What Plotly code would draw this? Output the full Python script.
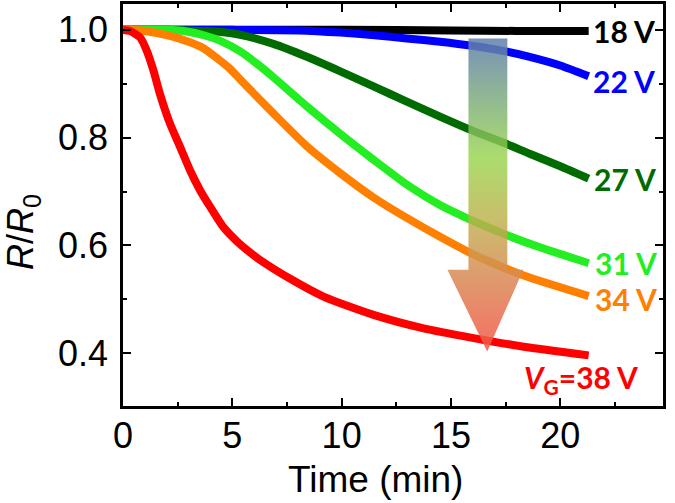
import plotly.graph_objects as go

# ---- data ----
labels = ["18 V", "22 V", "27 V", "31 V", "34 V", "<i>V</i><sub>G</sub>=38 V"]
colors = ["#000000", "#0000ff", "#006b00", "#22ee22", "#ff8000", "#ff0000"]

t_18 = [0, 5, 10, 15, 18, 21.3]
r_18 = [1.0, 1.0, 1.0, 0.999, 0.998, 0.998]

t_22 = [0, 5, 8, 9.94, 11.5, 12.98, 14.5, 16.04, 17.5, 18.6, 20, 21.3]
r_22 = [1.0, 1.0, 0.999, 0.995, 0.990, 0.984, 0.978, 0.970, 0.960, 0.950, 0.934, 0.914]

t_27 = [0, 2, 3.5, 4.5, 5.36, 6.88, 8.41, 9.94, 11.46, 12.98, 14.5, 16.04, 17.5, 18.6, 20, 21.3]
r_27 = [1.0, 1.0, 0.998, 0.996, 0.991, 0.974, 0.950, 0.923, 0.895, 0.867, 0.839, 0.812,
        0.789, 0.770, 0.747, 0.724]

t_31 = [0, 2.0, 2.9, 3.7, 4.43, 5.36, 6.1, 6.88, 8.41, 9.94, 11.46, 12.98, 14.5, 16.04,
        17.5, 19.1, 21.3]
r_31 = [1.0, 1.0, 0.997, 0.990, 0.980, 0.960, 0.938, 0.912, 0.858, 0.807, 0.759, 0.713,
        0.675, 0.645, 0.620, 0.596, 0.567]

t_34 = [0, 1.0, 2.15, 3.0, 3.68, 4.89, 5.36, 6.88, 8.41, 9.94, 11.46, 12.98, 14.5, 16.04,
        18.33, 21.3]
r_34 = [1.0, 0.998, 0.989, 0.978, 0.966, 0.928, 0.908, 0.845, 0.784, 0.734, 0.689, 0.651,
        0.616, 0.583, 0.544, 0.506]

t_38 = [0, 0.32, 0.78, 1.08, 1.39, 1.69, 2.15, 2.61, 3.07, 3.53, 3.98, 4.59, 5.2, 5.81,
        6.27, 7.65, 9.17, 11.46, 13.75, 16.04, 18.33, 21.3]
r_38 = [1.0, 0.998, 0.986, 0.962, 0.925, 0.881, 0.826, 0.783, 0.739, 0.702, 0.672, 0.634,
        0.608, 0.587, 0.573, 0.538, 0.505, 0.471, 0.446, 0.428, 0.412, 0.396]

series_t = [t_18, t_22, t_27, t_31, t_34, t_38]
series_r = [r_18, r_22, r_27, r_31, r_34, r_38]

# gradient arrow outline (data coords)
arrow_x = [15.80, 17.58, 17.58, 18.31, 16.66, 14.84, 15.80, 15.80]
arrow_y = [0.984, 0.984, 0.555, 0.555, 0.403, 0.555, 0.555, 0.984]

x_ticks = [0, 5, 10, 15, 20]
y_ticks = [0.4, 0.6, 0.8, 1.0]
y_ticktext = ["0.4", "0.6", "0.8", "1.0"]

fig = go.Figure()

for t, r, c in zip(series_t, series_r, colors):
    fig.add_trace(go.Scatter(x=t, y=r, mode="lines",
                             line=dict(color=c, width=8, shape="spline", smoothing=0.6),
                             showlegend=False, hoverinfo="skip"))

fig.add_trace(go.Scatter(
    x=arrow_x, y=arrow_y, mode="lines", line=dict(width=0), fill="toself",
    fillgradient=dict(type="vertical", colorscale=[
        [0.0, "rgba(245,85,70,0.85)"],
        [0.25, "rgba(215,140,85,0.85)"],
        [0.42, "rgba(190,175,75,0.82)"],
        [0.62, "rgba(150,212,72,0.8)"],
        [1.0, "rgba(95,125,175,0.85)"]]),
    showlegend=False, hoverinfo="skip"))

# end labels
label_shift = [(2, 0), (2, -5), (3, 0), (4, 0), (4, -3), (-67, -24)]
for t, r, c, lab, (dx, dy) in zip(series_t, series_r, colors, labels, label_shift):
    fig.add_annotation(x=t[-1], y=r[-1], text=f"<b>{lab}</b>", showarrow=False,
                       xanchor="left", yanchor="middle", xshift=dx, yshift=dy,
                       font=dict(family="Lato, Open Sans, sans-serif", size=30, color=c))

# axis titles
title_font = dict(family="Liberation Sans, Arial", size=37, color="black")
fig.add_annotation(xref="paper", yref="paper", x=0.467, y=-0.183, text="Time (min)",
                   showarrow=False, xanchor="center", yanchor="middle", font=title_font)
fig.add_annotation(xref="paper", yref="paper", x=-0.185, y=0.433,
                   text="<i>R</i>/<i>R</i><sub>0</sub>", textangle=-90,
                   showarrow=False, xanchor="center", yanchor="middle",
                   font=dict(family="Liberation Sans, Arial", size=36, color="black"))

axis_common = dict(showline=True, linewidth=2.5, linecolor="black", mirror="ticks",
                   ticks="inside", ticklen=8, tickwidth=2, tickcolor="black",
                   showgrid=False, zeroline=False,
                   tickfont=dict(family="Liberation Sans, Arial", size=36, color="black"))

fig.update_xaxes(range=[0, 24.7], tickvals=x_ticks, ticklabelstandoff=-4,
                 minor=dict(dtick=2.5, ticks="inside", ticklen=4, tickwidth=2,
                            tickcolor="black"),
                 **axis_common)
fig.update_yaxes(range=[0.302, 1.048], tickvals=y_ticks, ticktext=y_ticktext,
                 ticklabelstandoff=5,
                 minor=dict(dtick=0.1, tick0=0.3, ticks="inside", ticklen=4, tickwidth=2,
                            tickcolor="black"),
                 **axis_common)

fig.update_layout(width=675, height=503, margin=dict(l=123, r=12, t=4, b=97, autoexpand=False),
                  plot_bgcolor="white", paper_bgcolor="white")

fig.write_html("out.html", config={"displayModeBar": False},
               post_script="document.body.style.margin='0';")
